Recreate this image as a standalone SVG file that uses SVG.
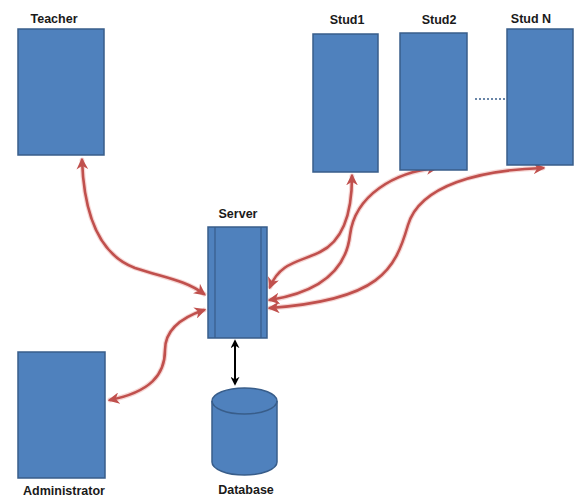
<svg xmlns="http://www.w3.org/2000/svg" width="576" height="499" viewBox="0 0 576 499">
<defs>
<style>
.box{fill:#4f81bd;stroke:#385d8a;stroke-width:1.5}
.lbl{font-family:"Liberation Sans",Arial,sans-serif;font-size:12.5px;font-weight:bold;fill:#1a1a1a;text-anchor:middle}
.red{fill:none;stroke:#c0504d;stroke-width:2.6;stroke-linecap:round;marker-start:url(#ra);marker-end:url(#ra)}
.glow{fill:none;stroke:#f2c4c2;stroke-width:5;stroke-linecap:round;opacity:0.7}
.blk{fill:none;stroke:#000;stroke-width:2;marker-start:url(#ba);marker-end:url(#ba)}
</style>
<marker id="ra" viewBox="0 0 10 10" refX="8" refY="5" markerWidth="4.5" markerHeight="4.5" orient="auto-start-reverse" markerUnits="strokeWidth">
<path d="M0,0 L10,5 L0,10 L3,5 Z" fill="#c0504d"/>
</marker>
<marker id="ba" viewBox="0 0 10 10" refX="8" refY="5" markerWidth="4.5" markerHeight="4.5" orient="auto-start-reverse" markerUnits="strokeWidth">
<path d="M0,0 L10,5 L0,10 L3,5 Z" fill="#000"/>
</marker>
</defs>
<rect width="576" height="499" fill="#fff"/>
<g id="connectors">
<path class="glow" d="M82,160 C84,215 100,255 135,268 C165,278 185,280 204,294"/>
<path class="red" d="M82,160 C84,215 100,255 135,268 C165,278 185,280 204,294"/>
<path class="glow" d="M204,310 C180,318 165,330 165,350 C165,375 150,392 110,400"/>
<path class="red" d="M204,310 C180,318 165,330 165,350 C165,375 150,392 110,400"/>
<path class="glow" d="M352,176 C352,210 345,240 320,252 C300,262 280,262 270,287"/>
<path class="red" d="M352,176 C352,210 345,240 320,252 C300,262 280,262 270,287"/>
<path class="glow" d="M436,168 C395,172 355,195 350,235 C346,270 320,292 270,300"/>
<path class="red" d="M436,168 C395,172 355,195 350,235 C346,270 320,292 270,300"/>
<path class="glow" d="M543,168 C480,170 420,185 408,225 C395,270 380,300 270,308"/>
<path class="red" d="M543,168 C480,170 420,185 408,225 C395,270 380,300 270,308"/>
<path class="blk" d="M235,341 L235,384"/>
<line x1="475" y1="99" x2="505" y2="99" stroke="#385d8a" stroke-width="1.5" stroke-dasharray="2,2"/>
</g>
<g id="teacher">
<rect class="box" x="18" y="29" width="86" height="126"/>
<text class="lbl" x="54" y="23">Teacher</text>
</g>
<g id="stud1">
<rect class="box" x="313" y="34" width="65" height="138"/>
<text class="lbl" x="347" y="24">Stud1</text>
</g>
<g id="stud2">
<rect class="box" x="400" y="33" width="67" height="137"/>
<text class="lbl" x="439" y="24">Stud2</text>
</g>
<g id="studN">
<rect class="box" x="507" y="29" width="66" height="136"/>
<text class="lbl" x="531" y="23">Stud N</text>
</g>
<g id="server">
<rect class="box" x="208" y="227" width="59" height="111"/>
<line x1="215" y1="227" x2="215" y2="338" stroke="#385d8a" stroke-width="1.2"/>
<line x1="261" y1="227" x2="261" y2="338" stroke="#385d8a" stroke-width="1.2"/>
<text class="lbl" x="238" y="218">Server</text>
</g>
<g id="administrator">
<rect class="box" x="18" y="352" width="87" height="126"/>
<text class="lbl" x="64" y="495">Administrator</text>
</g>
<g id="database">
<path class="box" d="M212,401 L212,462 A32.5,13 0 0 0 277,462 L277,401 A32.5,13 0 0 0 212,401 Z"/>
<path d="M212,401 A32.5,13 0 0 0 277,401" fill="none" stroke="#385d8a" stroke-width="1.5"/>
<text class="lbl" x="246" y="494">Database</text>
</g>
</svg>
